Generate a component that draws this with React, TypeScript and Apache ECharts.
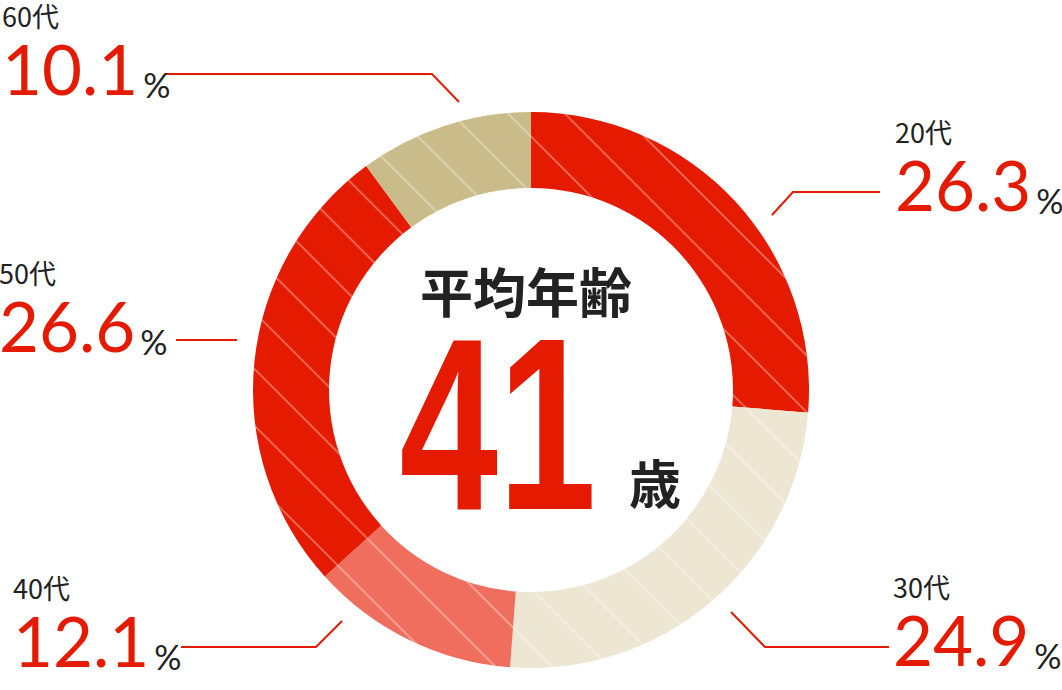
import { useEffect, useRef } from "react";
import * as echarts from "echarts";

const AGE_GROUPS = ["20代", "30代", "40代", "50代", "60代"];
const SHARES = [26.3, 24.9, 12.1, 26.6, 10.1];
const AVERAGE_AGE = 41;
const CENTER_TITLE = "平均年齢";
const AGE_UNIT = "歳";

const RED = "#e41b00";
const INK = "#222222";
const SLICE_COLORS = ["#e41b00", "#ece6d3", "#ef6e5e", "#e41b00", "#c9bc8a"];

// top-left of each label block and its leader line, in px
const LABEL_BOXES = [
  { x: 895, y: 117, line: [[772, 215], [793, 192], [880, 192]] },
  { x: 893, y: 572, line: [[731, 612], [765, 647], [889, 647]] },
  { x: 13, y: 573, line: [[342, 621], [316, 647], [181, 647]] },
  { x: -1, y: 258, line: [[237, 340], [206, 340], [176, 340]] },
  { x: 2, y: 1, line: [[459, 102], [432, 74], [165, 74]] },
];

const CJK = '"Noto Sans CJK JP", "Noto Sans", sans-serif';
const NUM = 'Lato, Roboto, "Noto Sans", sans-serif';

export default function App() {
  const chartRef = useRef<HTMLDivElement>(null);

  useEffect(() => {
    if (!chartRef.current) {
      return;
    }
    const chart = echarts.init(chartRef.current, null, { renderer: "svg" });

    const option: echarts.EChartsOption = {
      animation: false,
      backgroundColor: "#ffffff",
      series: [
        {
          type: "pie",
          center: [531, 390],
          radius: [202, 278],
          startAngle: 90,
          clockwise: true,
          avoidLabelOverlap: false,
          silent: true,
          itemStyle: {
            borderWidth: 0,
            decal: {
              symbol: "rect",
              symbolSize: 1,
              color: "rgba(255, 255, 255, 0.32)",
              dashArrayX: [1, 0],
              dashArrayY: [1.5, 38],
              rotation: Math.PI / 4,
            },
          },
          label: {
            show: true,
            position: "outside",
            formatter: (p: any) => `{a|${p.name}}\n{b|${p.value}}{c|%}`,
            rich: {
              a: {
                fontFamily: CJK,
                fontSize: 27,
                lineHeight: 28,
                color: INK,
                verticalAlign: "bottom",
              },
              b: {
                fontFamily: NUM,
                fontSize: 69,
                lineHeight: 74,
                color: RED,
                verticalAlign: "bottom",
              },
              c: {
                fontFamily: NUM,
                fontSize: 34,
                lineHeight: 34,
                color: INK,
                padding: [0, 0, 2, 5],
                verticalAlign: "bottom",
              },
            },
          },
          labelLine: {
            show: true,
            smooth: false,
            lineStyle: { color: RED, width: 2 },
          },
          labelLayout: (params: any) => {
            const box = LABEL_BOXES[params.dataIndex];
            return {
              x: box.x,
              y: box.y,
              align: "left",
              verticalAlign: "top",
              labelLinePoints: box.line,
            };
          },
          data: AGE_GROUPS.map((name, i) => ({
            name,
            value: SHARES[i],
            itemStyle: { color: SLICE_COLORS[i] },
          })),
        },
      ],
      graphic: [
        {
          type: "text",
          x: 526,
          y: 290,
          style: {
            text: CENTER_TITLE,
            fontFamily: CJK,
            fontSize: 53,
            fontWeight: "bold",
            fill: INK,
            align: "center",
            verticalAlign: "middle",
          },
        },
        {
          type: "text",
          x: 498,
          y: 423,
          scaleX: 0.72,
          style: {
            text: String(AVERAGE_AGE),
            fontFamily: '"Liberation Sans", Arial, sans-serif',
            fontSize: 246,
            fontWeight: "bold",
            fill: RED,
            align: "center",
            verticalAlign: "middle",
          },
        },
        {
          type: "text",
          x: 655,
          y: 481,
          style: {
            text: AGE_UNIT,
            fontFamily: CJK,
            fontSize: 52,
            fontWeight: "bold",
            fill: INK,
            align: "center",
            verticalAlign: "middle",
          },
        },
      ],
    };

    chart.setOption(option);

    return () => {
      chart.dispose();
    };
  }, []);

  return (
    <div
      ref={chartRef}
      style={{ position: "fixed", left: 0, top: 0, width: 1062, height: 690 }}
    />
  );
}
